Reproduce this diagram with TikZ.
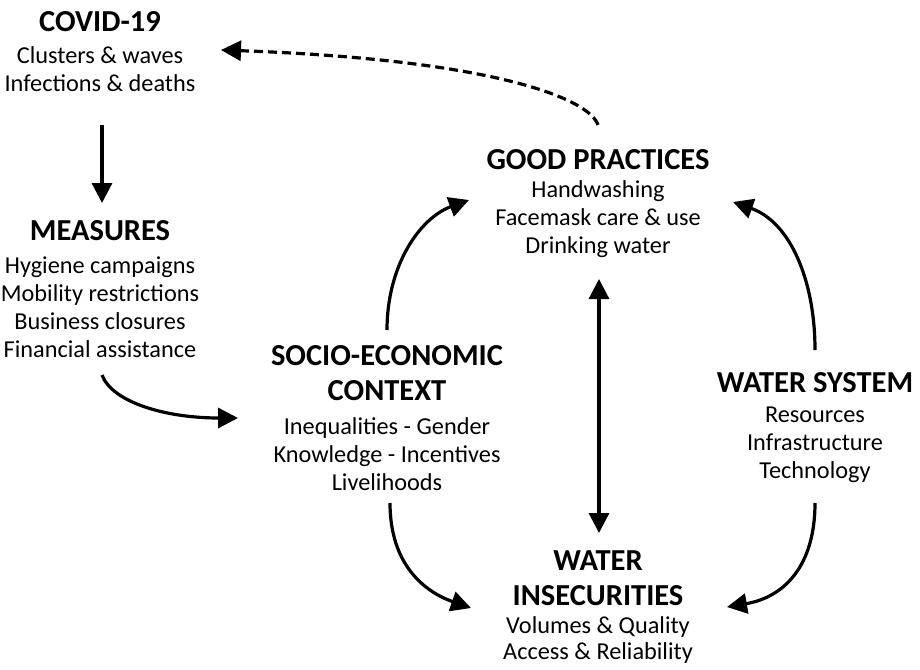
\documentclass[tikz,border=0pt]{standalone}
\usepackage{fontspec}
\setmainfont{Carlito}
\usetikzlibrary{arrows.meta}
\begin{document}
\begin{tikzpicture}[x=1pt,y=-1pt,
  ttl/.style={font=\fontsize{30.5}{35}\selectfont\bfseries, align=center, inner sep=0pt},
  txt/.style={font=\fontsize{24.3}{28}\selectfont, align=center, inner sep=0pt, text=black},
  link/.style={line width=3.2pt, -{Triangle[length=20pt,width=20pt]}},
  twoway/.style={line width=3.2pt, {Triangle[length=20pt,width=20pt]}-{Triangle[length=20pt,width=20pt]}},
  feedback/.style={link, dash pattern=on 9pt off 5pt}]
\useasboundingbox (0,0) rectangle (920,669);

% concept blocks
\node[ttl] (covid) at (100,22) {COVID-19};
\node[txt] (covidtxt) at (100,69) {Clusters \& waves\\Infections \& deaths};

\node[ttl] (meas) at (100,231) {MEASURES};
\node[txt] (meastxt) at (100,307) {Hygiene campaigns\\Mobility restrictions\\Business closures\\Financial assistance};

\node[ttl] (good) at (598,160) {GOOD PRACTICES};
\node[txt] (goodtxt) at (598,219) {Handwashing\\Facemask care \& use\\Drinking water};

\node[ttl] (socio) at (387,373) {SOCIO-ECONOMIC\\CONTEXT};
\node[txt] (sociotxt) at (387,454) {Inequalities - Gender\\Knowledge - Incentives\\Livelihoods};

\node[ttl] (wsys) at (815,383) {WATER SYSTEM};
\node[txt] (wsystxt) at (815,445) {Resources\\Infrastructure\\Technology};

\node[ttl] (wins) at (598,578) {WATER\\INSECURITIES};
\node[txt, font=\fontsize{24.3}{26}\selectfont] (winstxt) at (598,640) {Volumes \& Quality\\Access \& Reliability};

% connector end points
\coordinate (covidOut)  at (102,125);
\coordinate (measIn)    at (102,203);
\coordinate (measOut)   at (102,375);
\coordinate (socioIn)   at (238,418);
\coordinate (socioUp)   at (387,330);
\coordinate (socioDown) at (390,503);
\coordinate (goodInL)   at (469,200);
\coordinate (goodInR)   at (733,202);
\coordinate (goodDown)  at (599,279);
\coordinate (goodUp)    at (598,125);
\coordinate (covidIn)   at (221,50);
\coordinate (winsUp)    at (599,533);
\coordinate (winsInL)   at (471,608);
\coordinate (winsInR)   at (727,607);
\coordinate (wsysUp)    at (815,350);
\coordinate (wsysDown)  at (815,503);

% connectors
\draw[link] (covidOut) -- (measIn);
\draw[link] (measOut) .. controls (112,402) and (165,418) .. (socioIn);
\draw[link] (socioUp) .. controls (387,265) and (420,218) .. (goodInL);
\draw[link] (socioDown) .. controls (390,565) and (425,592) .. (winsInL);
\draw[link] (wsysUp) .. controls (815,280) and (790,222) .. (goodInR);
\draw[link] (wsysDown) .. controls (815,565) and (785,597) .. (winsInR);
\draw[twoway] (goodDown) -- (winsUp);
\draw[feedback] (goodUp) .. controls (590,100) and (500,60) .. (covidIn);
\end{tikzpicture}
\end{document}
